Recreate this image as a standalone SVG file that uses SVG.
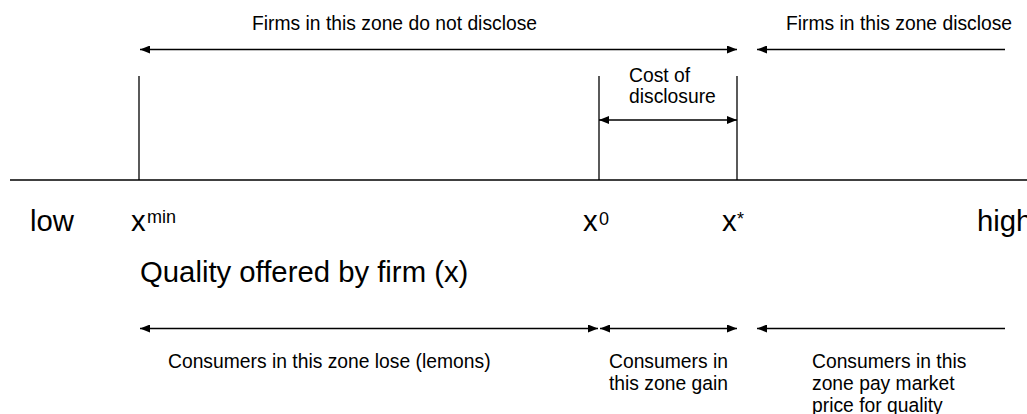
<svg xmlns="http://www.w3.org/2000/svg" width="1027" height="414" viewBox="0 0 1027 414">
<style>
.ln{stroke:#000;stroke-width:1.3;fill:none}
.sm{font-family:"Liberation Sans",Arial,sans-serif;font-size:19.3px;fill:#000}
.lg{font-family:"Liberation Sans",Arial,sans-serif;font-size:29.3px;fill:#000}
.sup{font-family:"Liberation Sans",Arial,sans-serif;font-size:18px;fill:#000}
</style>
<defs>
<marker id="ah" viewBox="0 0 10 8" refX="10" refY="4" markerWidth="10" markerHeight="8" markerUnits="userSpaceOnUse" orient="auto-start-reverse">
<path d="M0,0 L10,4 L0,8 Z" fill="#000"/>
</marker>
</defs>
<rect width="1027" height="414" fill="#fff"/>
<g id="axis">
<line class="ln" x1="10" y1="180" x2="1027" y2="180"/>
<line class="ln" x1="139" y1="76" x2="139" y2="180"/>
<line class="ln" x1="599" y1="76" x2="599" y2="180"/>
<line class="ln" x1="737" y1="76" x2="737" y2="180"/>
</g>
<g id="connectors">
<line class="ln" x1="140" y1="49.5" x2="737" y2="49.5" marker-start="url(#ah)" marker-end="url(#ah)"/>
<line class="ln" x1="1005" y1="49.5" x2="757" y2="49.5" marker-end="url(#ah)"/>
<line class="ln" x1="599" y1="120" x2="737" y2="120" marker-start="url(#ah)" marker-end="url(#ah)"/>
<line class="ln" x1="140" y1="328.5" x2="598" y2="328.5" marker-start="url(#ah)" marker-end="url(#ah)"/>
<line class="ln" x1="600" y1="328.5" x2="737" y2="328.5" marker-start="url(#ah)" marker-end="url(#ah)"/>
<line class="ln" x1="1005" y1="328.5" x2="757" y2="328.5" marker-end="url(#ah)"/>
</g>
<g id="firms-no-disclose"><text class="sm" x="252" y="30">Firms in this zone do not disclose</text></g>
<g id="firms-disclose"><text class="sm" x="786" y="30">Firms in this zone disclose</text></g>
<g id="cost-of-disclosure"><text class="sm" x="629" y="82">Cost of</text><text class="sm" x="629" y="103">disclosure</text></g>
<g id="low"><text class="lg" x="30" y="231">low</text></g>
<g id="xmin"><text class="lg" x="131" y="231">x</text><text class="sup" x="147" y="223">min</text></g>
<g id="x0"><text class="lg" x="583" y="231">x</text><text class="sup" x="599" y="225">0</text></g>
<g id="xstar"><text class="lg" x="722" y="231">x</text><text class="sup" x="737" y="225">*</text></g>
<g id="high"><text class="lg" x="977" y="231">high</text></g>
<g id="quality"><text class="lg" x="140" y="282">Quality offered by firm (x)</text></g>
<g id="consumers-lose"><text class="sm" x="168" y="368">Consumers in this zone lose (lemons)</text></g>
<g id="consumers-gain"><text class="sm" x="609" y="368">Consumers in</text><text class="sm" x="609" y="390">this zone gain</text></g>
<g id="consumers-market"><text class="sm" x="812" y="368">Consumers in this</text><text class="sm" x="812" y="390">zone pay market</text><text class="sm" x="812" y="412">price for quality</text></g>
</svg>
